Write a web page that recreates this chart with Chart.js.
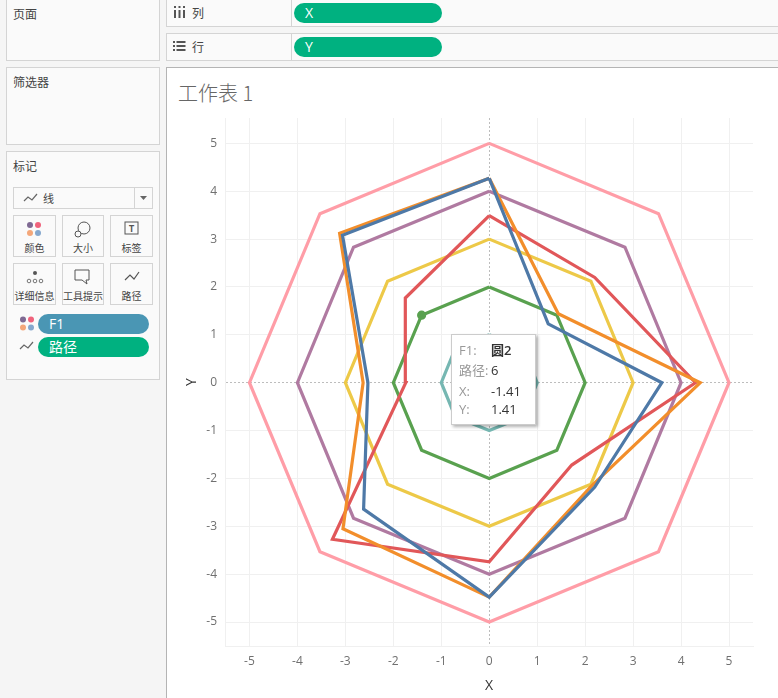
<!DOCTYPE html>
<html>
<head>
<meta charset="utf-8">
<title>工作表 1</title>
<script src="https://cdn.jsdelivr.net/npm/chart.js@4"></script>
<style>
  html, body { margin: 0; padding: 0; width: 778px; height: 698px; overflow: hidden; background: #f5f5f5; }
  body { position: relative; font-family: "Noto Sans CJK SC", "Open Sans", sans-serif; font-size: 12px; color: #444; }
  .box { position: absolute; box-sizing: border-box; background: #fafafa; border: 1px solid #d4d4d4; }
  .txt { position: absolute; white-space: nowrap; line-height: 16px; }
  .pill { position: absolute; box-sizing: border-box; border-radius: 10px; color: #fff; padding-left: 11px; line-height: 20px; height: 20px; font-size: 14px; font-family: "Open Sans", "Noto Sans CJK SC", sans-serif; font-weight: 400; }
  .green { background: #00b180; }
  .blue { background: #4a96b4; }
  .card { position: absolute; box-sizing: border-box; border: 1px solid #d4d4d4; background: #fafafa; text-align: center; font-size: 10px; }
  .card svg { position: absolute; left: 50%; margin-left: -10px; top: 4px; }
  .card span { position: absolute; left: -4px; right: -4px; top: 24px; line-height: 16px; }
  #main { position: absolute; left: 166px; top: 67px; width: 612px; height: 631px; box-sizing: border-box; background: #fff; border-left: 1px solid #b4b4b4; border-top: 1px solid #b4b4b4; }
  #wrap { position: absolute; left: 167px; top: 68px; width: 611px; height: 630px; }
  #title { position: absolute; left: 178px; top: 80px; font-size: 20px; line-height: 26px; color: #666; font-weight: 300; }
  #tip { position: absolute; left: 451px; top: 334px; width: 85px; height: 91px; box-sizing: border-box; background: #fff; border: 1px solid #ccc; box-shadow: 2px 2px 3px rgba(0,0,0,.3); font-family: "Open Sans", "Noto Sans CJK SC", sans-serif; font-size: 13px; color: #333; }
  #tip b, #tip i { position: absolute; font-style: normal; font-weight: normal; line-height: 16px; white-space: nowrap; }
  #tip b { left: 7px; color: #999; }
  #tip i { left: 39px; }
</style>
</head>
<body>
<div class="box" style="left:6px;top:-1px;width:154px;height:62px"></div>
<div class="txt" style="left:13px;top:6px">页面</div>
<div class="box" style="left:6px;top:67px;width:154px;height:78px"></div>
<div class="txt" style="left:13px;top:74px">筛选器</div>
<div class="box" style="left:6px;top:151px;width:154px;height:229px"></div>
<div class="txt" style="left:13px;top:158px">标记</div>

<div class="box" style="left:13px;top:187px;width:140px;height:22px"></div>
<div style="position:absolute;left:134px;top:188px;width:1px;height:20px;background:#d4d4d4"></div>
<svg style="position:absolute;left:23px;top:192px" width="16" height="12"><polyline points="1,9 5,5 9,8 14,2" fill="none" stroke="#666" stroke-width="1.2"/></svg>
<div class="txt" style="left:43px;top:190px;font-size:11px">线</div>
<svg style="position:absolute;left:139px;top:195px" width="9" height="6"><polygon points="1,1 8,1 4.500,5" fill="#666"/></svg>

<div class="card" style="left:13px;top:215px;width:43px;height:42px">
  <svg width="20" height="20"><circle cx="5" cy="5" r="3" fill="#7f6a93"/><circle cx="13" cy="5" r="3" fill="#f0637c"/><circle cx="5" cy="13" r="3" fill="#f4a77a"/><circle cx="13" cy="13" r="3" fill="#86a8ce"/></svg>
  <span>颜色</span>
</div>
<div class="card" style="left:62px;top:215px;width:42px;height:42px">
  <svg width="20" height="20"><circle cx="11" cy="8" r="6" fill="none" stroke="#555"/><circle cx="5" cy="14" r="3" fill="#fafafa" stroke="#555"/></svg>
  <span>大小</span>
</div>
<div class="card" style="left:110px;top:215px;width:43px;height:42px">
  <svg width="20" height="20"><rect x="3" y="2" width="13" height="12" fill="none" stroke="#555"/><text x="9.500" y="12" font-size="9" font-weight="bold" text-anchor="middle" fill="#555">T</text></svg>
  <span>标签</span>
</div>
<div class="card" style="left:13px;top:263px;width:43px;height:42px">
  <svg width="20" height="20"><circle cx="10" cy="5" r="2" fill="#555"/><circle cx="4" cy="13" r="1.800" fill="none" stroke="#555" stroke-width=".8"/><circle cx="10" cy="13" r="1.800" fill="none" stroke="#555" stroke-width=".8"/><circle cx="16" cy="13" r="1.800" fill="none" stroke="#555" stroke-width=".8"/></svg>
  <span>详细信息</span>
</div>
<div class="card" style="left:62px;top:263px;width:42px;height:42px">
  <svg width="20" height="20"><path d="M2 2 H16 V12 H13 L14 16 L9 12 H2 Z" fill="none" stroke="#555"/></svg>
  <span>工具提示</span>
</div>
<div class="card" style="left:110px;top:263px;width:43px;height:42px">
  <svg width="20" height="20"><polyline points="3,12 8,7 12,11 17,4" fill="none" stroke="#555" stroke-width="1.200"/></svg>
  <span>路径</span>
</div>

<svg style="position:absolute;left:19px;top:316px" width="16" height="16"><circle cx="4" cy="3.500" r="3" fill="#7f6a93"/><circle cx="12" cy="3.500" r="3" fill="#f0637c"/><circle cx="4" cy="11.500" r="3" fill="#f4a77a"/><circle cx="12" cy="11.500" r="3" fill="#86a8ce"/></svg>
<div class="pill blue" style="left:38px;top:314px;width:111px">F1</div>
<svg style="position:absolute;left:19px;top:340px" width="16" height="12"><polyline points="1,9 5,5 9,8 14,2" fill="none" stroke="#666" stroke-width="1.200"/></svg>
<div class="pill green" style="left:38px;top:337px;width:111px">路径</div>

<div class="box" style="left:166px;top:-1px;width:613px;height:28px"></div>
<div style="position:absolute;left:291px;top:0;width:1px;height:26px;background:#d4d4d4"></div>
<svg style="position:absolute;left:173px;top:6px" width="13" height="12"><rect x="1" y="0" width="2" height="2" fill="#555"/><rect x="1" y="4" width="2" height="8" fill="#555"/><rect x="5.500" y="0" width="2" height="2" fill="#555"/><rect x="5.500" y="4" width="2" height="8" fill="#555"/><rect x="10" y="0" width="2" height="2" fill="#555"/><rect x="10" y="4" width="2" height="8" fill="#555"/></svg>
<div class="txt" style="left:192px;top:5px">列</div>
<div class="pill green" style="left:294px;top:3px;width:148px">X</div>

<div class="box" style="left:166px;top:33px;width:613px;height:28px"></div>
<div style="position:absolute;left:291px;top:34px;width:1px;height:26px;background:#d4d4d4"></div>
<svg style="position:absolute;left:173px;top:41px" width="13" height="11"><rect x="0" y="0" width="2" height="2" fill="#555"/><rect x="3.500" y="0" width="9" height="2" fill="#555"/><rect x="0" y="4" width="2" height="2" fill="#555"/><rect x="3.500" y="4" width="9" height="2" fill="#555"/><rect x="0" y="8" width="2" height="2" fill="#555"/><rect x="3.500" y="8" width="9" height="2" fill="#555"/></svg>
<div class="txt" style="left:192px;top:39px">行</div>
<div class="pill green" style="left:294px;top:37px;width:148px">Y</div>

<div id="main"></div>
<div id="title">工作表 1</div>
<div id="wrap"><canvas id="cv" width="611" height="630"></canvas></div>

<div id="tip">
  <b style="top:7px">F1:</b><i style="top:7px;font-weight:600">圆2</i>
  <b style="top:27px">路径:</b><i style="top:27px">6</i>
  <b style="top:48px">X:</b><i style="top:48px">-1.41</i>
  <b style="top:66px">Y:</b><i style="top:66px">1.41</i>
</div>

<script>
const xTicks = [-5, -4, -3, -2, -1, 0, 1, 2, 3, 4, 5];
const yTicks = [5, 4, 3, 2, 1, 0, -1, -2, -3, -4, -5];

const lanX = [0, 1.23, 3.6, 2.2, 0, -2.62, -2.53, -3.06, 0];
const lanY = [4.27, 1.23, 0, -2.18, -4.48, -2.64, 0, 3.08, 4.27];
const chengX = [0, 1.44, 4.4, 2.14, 0, -3.05, -2.63, -3.12, 0];
const chengY = [4.27, 1.44, 0, -2.15, -4.48, -3.05, 0, 3.12, 4.27];
const hongX = [0, 2.2, 4.3, 1.72, 0, -3.27, -1.74, -1.75, 0];
const hongY = [3.49, 2.2, 0, -1.72, -3.74, -3.27, 0, 1.77, 3.49];
const yuan1X = [0, 0.71, 1, 0.71, 0, -0.71, -1, -0.71, 0];
const yuan1Y = [1, 0.71, 0, -0.71, -1, -0.71, 0, 0.71, 1];
const yuan2X = [0, 1.41, 2, 1.41, 0, -1.41, -2, -1.41, 0];
const yuan2Y = [2, 1.41, 0, -1.41, -2, -1.41, 0, 1.41, 2];
const yuan3X = [0, 2.12, 3, 2.12, 0, -2.12, -3, -2.12, 0];
const yuan3Y = [3, 2.12, 0, -2.12, -3, -2.12, 0, 2.12, 3];
const yuan4X = [0, 2.83, 4, 2.83, 0, -2.83, -4, -2.83, 0];
const yuan4Y = [4, 2.83, 0, -2.83, -4, -2.83, 0, 2.83, 4];
const yuan5X = [0, 3.53, 5, 3.53, 0, -3.53, -5, -3.53, 0];
const yuan5Y = [5, 3.53, 0, -3.53, -5, -3.53, 0, 3.53, 5];

const toPts = (xs, ys) => xs.map((x, i) => ({ x: x, y: ys[i] }));
const line = (label, xs, ys, color) => ({
  label: label,
  data: toPts(xs, ys),
  borderColor: color,
  backgroundColor: color,
  borderWidth: 3.2,
  pointRadius: 0,
  tension: 0,
  fill: false
});

// first dataset is painted on top
const datasets = [
  line('蓝', lanX, lanY, '#4e79a7'),
  line('橙', chengX, chengY, '#f28e2b'),
  line('红', hongX, hongY, '#e15759'),
  line('圆3', yuan3X, yuan3Y, '#edc948'),
  line('圆4', yuan4X, yuan4Y, '#b07aa1'),
  line('圆2', yuan2X, yuan2Y, '#59a14f'),
  line('圆1', yuan1X, yuan1Y, '#76b7b2'),
  line('圆5', yuan5X, yuan5Y, '#ff9da7')
];
// hovered point from the tooltip (path 6 of 圆2)
datasets[5].pointRadius = ctx => ctx.dataIndex === 7 ? 3 : 0;

const gridC = '#f0f0f0', textC = '#707070';
const tickFont = { size: 12, family: 'Open Sans' };
const axisBase = (ticks, title, lo, hi) => ({
  type: 'linear',
  min: lo,
  max: hi,
  afterBuildTicks: s => { s.ticks = ticks.map(v => ({ value: v })); },
  grid: {
    color: c => c.tick && c.tick.value === 0 ? '#bdbdbd' : gridC,
    drawTicks: false,
    lineWidth: 1
  },
  border: {
    display: true,
    color: gridC,
    dash: c => c.tick && c.tick.value === 0 ? [2, 2] : []
  },
  ticks: { color: textC, font: tickFont, padding: 8, maxRotation: 0, autoSkip: false,
    callback: v => String(v) },
  title: { display: true, text: title, color: '#333', font: { size: 14, family: 'Open Sans' }, padding: 0 }
});

new Chart(document.getElementById('cv'), {
  type: 'line',
  data: { datasets: datasets },
  options: {
    responsive: false,
    animation: false,
    layout: { padding: { top: 50, right: 25, bottom: 4, left: 17 } },
    plugins: { legend: { display: false }, tooltip: { enabled: false } },
    events: [],
    scales: {
      x: Object.assign(axisBase(xTicks, 'X', -5.51, 5.5), { afterFit: s => { s.height = 48; } }),
      y: Object.assign(axisBase(yTicks, 'Y', -5.5, 5.53), { afterFit: s => { s.width = 41; } })
    }
  }
});
</script>
</body>
</html>
